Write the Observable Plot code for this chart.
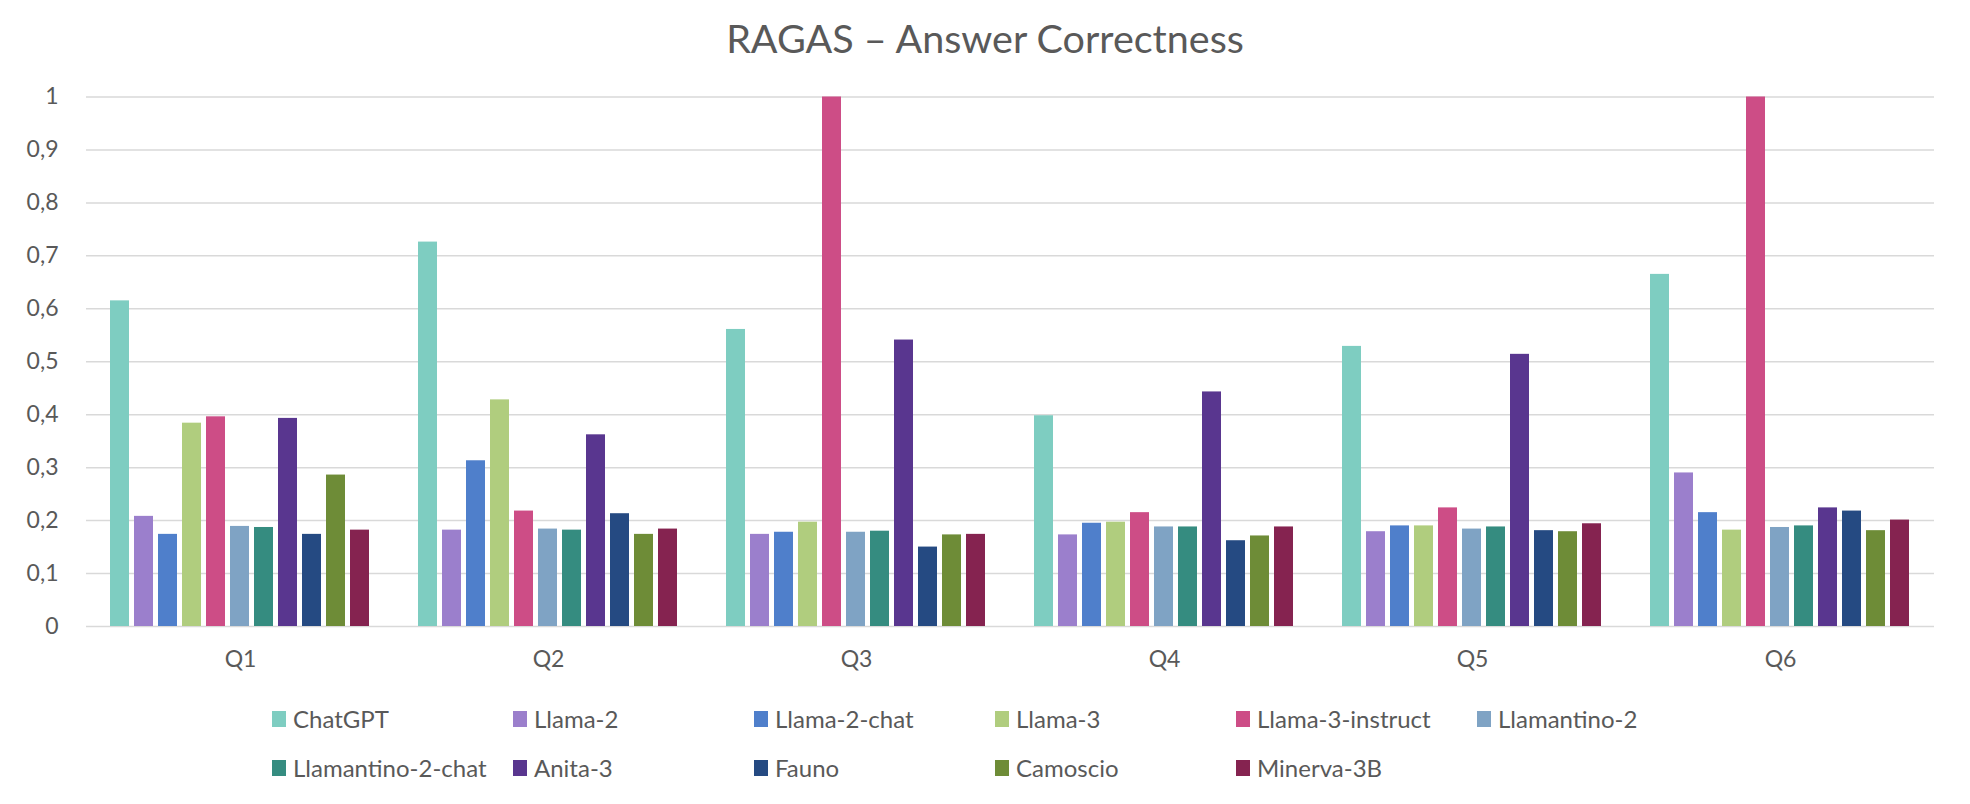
<!DOCTYPE html>
<html>
<head>
<meta charset="utf-8">
<script src="https://cdn.jsdelivr.net/npm/d3@7"></script>
<script src="https://cdn.jsdelivr.net/npm/@observablehq/plot@0.6"></script>
<style>
  html, body { margin: 0; padding: 0; background: #fff; }
  #wrap { position: relative; width: 1970px; height: 804px; font-family: Lato, "Open Sans", sans-serif; color: #595959; }
  #title { position: absolute; left: 0; top: 13px; width: 1970px; text-align: center; font-size: 39.5px; line-height: 50px; color: #595959; }
  #chart { position: absolute; left: 0; top: 70px; }
  #legend { position: absolute; left: 272px; top: 694px; display: grid; grid-template-columns: repeat(6, 241px); grid-auto-rows: 49px; }
  .item { display: flex; align-items: center; height: 49px; font-size: 24px; white-space: nowrap; }
  .sw { width: 14px; height: 16px; margin-right: 7px; flex: none; }
</style>
</head>
<body>
<div id="wrap">
  <div id="title">RAGAS – Answer Correctness</div>
  <div id="chart"></div>
  <div id="legend"></div>
</div>
<script>
const questions = ["Q1", "Q2", "Q3", "Q4", "Q5", "Q6"];
const models = ["ChatGPT", "Llama-2", "Llama-2-chat", "Llama-3", "Llama-3-instruct", "Llamantino-2",
                "Llamantino-2-chat", "Anita-3", "Fauno", "Camoscio", "Minerva-3B"];
const colors = ["#7ECDC1", "#9B7FCC", "#4F7FCB", "#B0CD7E", "#CD4D86", "#7FA3C4",
                "#358C80", "#59368F", "#254A82", "#6E8C37", "#852350"];

// values per model, Q1..Q6
const chatgpt          = [0.615, 0.726, 0.561, 0.398, 0.529, 0.665];
const llama2           = [0.208, 0.182, 0.174, 0.173, 0.179, 0.290];
const llama2chat       = [0.174, 0.313, 0.178, 0.195, 0.190, 0.215];
const llama3           = [0.384, 0.428, 0.197, 0.197, 0.190, 0.182];
const llama3instruct   = [0.396, 0.218, 1.000, 0.215, 0.224, 1.000];
const llamantino2      = [0.189, 0.184, 0.178, 0.188, 0.184, 0.187];
const llamantino2chat  = [0.187, 0.182, 0.180, 0.188, 0.188, 0.190];
const anita3           = [0.393, 0.362, 0.541, 0.443, 0.514, 0.224];
const fauno            = [0.174, 0.213, 0.150, 0.162, 0.181, 0.218];
const camoscio         = [0.286, 0.174, 0.173, 0.171, 0.179, 0.181];
const minerva3b        = [0.182, 0.184, 0.174, 0.188, 0.194, 0.201];

const yTicks = [0, 0.1, 0.2, 0.3, 0.4, 0.5, 0.6, 0.7, 0.8, 0.9, 1];
const yTickLabels = ["0", "0,1", "0,2", "0,3", "0,4", "0,5", "0,6", "0,7", "0,8", "0,9", "1"];

const series = [chatgpt, llama2, llama2chat, llama3, llama3instruct, llamantino2,
                llamantino2chat, anita3, fauno, camoscio, minerva3b];
const data = [];
questions.forEach((q, qi) => {
  models.forEach((m, mi) => {
    data.push({question: q, model: m, value: series[mi][qi]});
  });
});

const chart = Plot.plot({
  width: 1970,
  height: 615,
  marginLeft: 85,
  marginRight: 35,
  marginTop: 26.5,
  marginBottom: 59,
  style: {fontFamily: "Lato, 'Open Sans', sans-serif", color: "#595959", background: "#fff"},
  fx: {domain: questions, padding: 0, label: null},
  x: {domain: models, paddingInner: 0.2, paddingOuter: 0.767, axis: null},
  y: {domain: [0, 1], label: null},
  color: {domain: models, range: colors},
  marks: [
    Plot.gridY(yTicks, {stroke: "#d9d9d9", strokeOpacity: 1, strokeWidth: 1.5}),
    Plot.barY(data, {fx: "question", x: "model", y: "value", fill: "model"}),
    Plot.axisY(yTicks, {
      tickSize: 0, tickPadding: 28, fontSize: 23, fill: "#595959",
      tickFormat: d => yTickLabels[yTicks.indexOf(d)], label: null
    }),
    Plot.axisFx({anchor: "bottom", tickSize: 0, tickPadding: 24, fontSize: 23, fill: "#595959", label: null})
  ]
});
document.getElementById("chart").appendChild(chart);

const legend = document.getElementById("legend");
models.forEach((m, i) => {
  const it = document.createElement("div");
  it.className = "item";
  const sw = document.createElement("span");
  sw.className = "sw";
  sw.style.background = colors[i];
  const tx = document.createElement("span");
  tx.textContent = m;
  it.appendChild(sw);
  it.appendChild(tx);
  legend.appendChild(it);
});
</script>
</body>
</html>
